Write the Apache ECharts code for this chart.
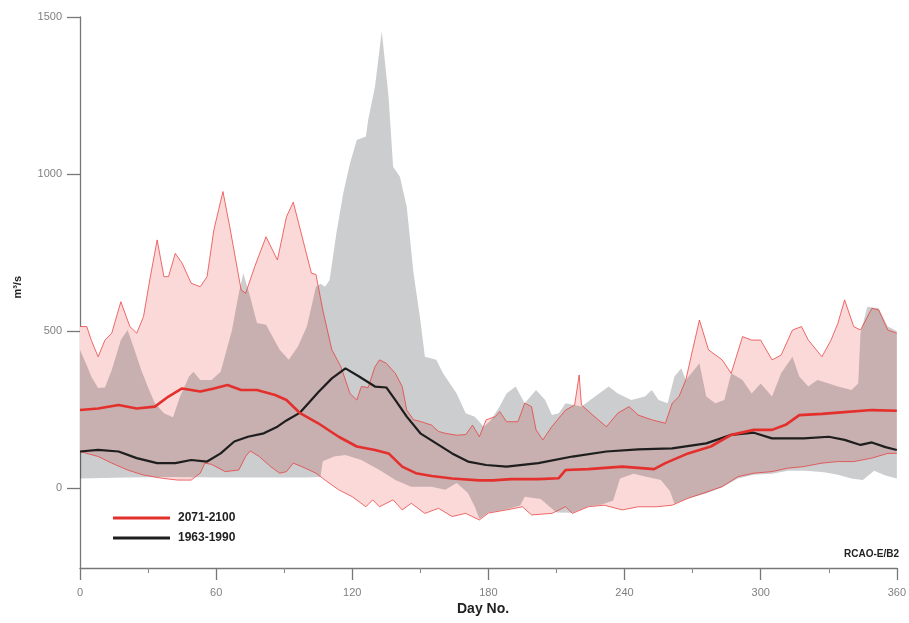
<!DOCTYPE html>
<html>
<head>
<meta charset="utf-8">
<title>RCAO-E/B2 daily discharge</title>
<script src="https://cdn.jsdelivr.net/npm/echarts@6/dist/echarts.min.js"></script>
<style>
  html, body { margin: 0; padding: 0; background: #fff; }
  #chart { width: 909px; height: 623px; }
</style>
</head>
<body>
<div id="chart"></div>
<script>
// Daily discharge (m3/s) by day of year, [day, value] pairs.
// 2071-2100: maximum, minimum and mean
const max2071 = [[0,514],[3,514],[5,470],[8,418],[11,471],[14,493],[18,593],[22,514],[25,493],[28,546],[31,673],[34,790],[37,673],[39,673],[42,747],[45,716],[49,652],[53,641],[56,673],[59,822],[63,944],[66,832],[71,631],[73,620],[77,705],[82,800],[87,726],[91,864],[94,910],[102,684],[104,680],[107,567],[111,440],[115,386],[119,301],[122,280],[124,323],[127,320],[130,386],[132,408],[135,397],[139,365],[142,323],[144,248],[147,217],[150,212],[155,200],[158,180],[161,174],[166,168],[170,170],[173,200],[176,163],[179,217],[183,227],[185,243],[188,211],[193,211],[196,270],[199,259],[201,185],[204,153],[208,196],[214,248],[218,264],[220,360],[221,264],[226,232],[232,195],[237,238],[242,259],[246,232],[252,217],[258,206],[261,270],[264,291],[267,344],[270,440],[273,535],[277,440],[283,408],[287,365],[292,482],[296,471],[300,471],[305,408],[309,423],[314,503],[318,514],[321,471],[327,418],[331,471],[334,524],[337,599],[341,514],[344,503],[349,572],[352,567],[356,503],[360,493]];
const min2071 = [[0,116],[4,108],[8,100],[14,79],[21,57],[28,41],[36,31],[43,25],[49,25],[53,47],[55,79],[58,75],[64,52],[70,57],[73,100],[75,118],[79,100],[84,68],[88,47],[91,52],[94,79],[98,67],[104,47],[108,25],[114,-6],[120,-28],[126,-60],[129,-38],[132,-60],[138,-38],[142,-70],[146,-49],[152,-81],[158,-65],[164,-91],[170,-81],[176,-102],[180,-80],[188,-70],[195,-60],[199,-86],[208,-81],[214,-60],[217,-81],[224,-60],[231,-55],[239,-70],[246,-60],[254,-60],[261,-55],[268,-33],[275,-16],[283,4],[290,36],[297,47],[305,52],[312,63],[319,68],[327,79],[334,84],[341,84],[349,95],[356,110],[360,110]];
const mean2071 = [[0,248],[8,253],[17,264],[25,253],[33,259],[39,291],[45,317],[53,307],[59,317],[65,328],[71,312],[78,312],[86,296],[91,280],[97,238],[105,206],[114,163],[122,132],[130,121],[136,110],[142,68],[148,47],[155,38],[164,30],[176,24],[182,24],[190,28],[202,28],[211,31],[214,57],[224,60],[239,68],[253,60],[258,79],[268,110],[278,132],[287,169],[297,185],[305,185],[311,201],[317,232],[327,236],[334,240],[349,248],[360,246]];

// 1963-1990: maximum, minimum and mean
const max1963 = [[0,440],[3,390],[5,354],[8,318],[11,320],[14,376],[18,471],[21,503],[24,440],[27,376],[30,320],[33,270],[37,238],[41,225],[44,290],[48,354],[50,370],[53,344],[58,344],[62,370],[67,503],[70,620],[72,684],[75,609],[78,525],[82,520],[88,440],[92,408],[96,450],[100,514],[104,641],[106,650],[108,641],[110,662],[113,811],[116,938],[119,1034],[122,1108],[126,1119],[127,1172],[130,1278],[133,1455],[136,1246],[138,1023],[141,991],[144,896],[147,684],[150,535],[152,418],[157,408],[160,365],[166,301],[170,238],[174,227],[178,195],[181,215],[185,260],[188,301],[192,323],[196,270],[201,312],[205,280],[208,232],[211,238],[214,270],[221,259],[227,291],[233,323],[237,301],[243,280],[249,291],[252,312],[255,280],[259,270],[262,355],[265,381],[267,344],[270,370],[273,397],[276,291],[280,270],[284,280],[287,365],[292,344],[296,301],[300,333],[305,291],[309,365],[314,418],[317,355],[321,323],[325,344],[330,333],[334,323],[340,312],[343,333],[344,493],[347,577],[352,572],[356,514],[360,500]];
const min1963 = [[0,30],[20,33],[40,35],[60,33],[80,33],[100,33],[106,35],[107,85],[112,100],[117,105],[124,89],[132,57],[139,25],[146,4],[155,4],[161,-6],[166,16],[171,-16],[174,-60],[176,-98],[180,-78],[188,-68],[194,-56],[196,-28],[203,-35],[207,-60],[210,-78],[217,-79],[224,-58],[230,-53],[235,-40],[238,30],[244,45],[250,35],[256,25],[260,-10],[262,-50],[268,-33],[276,-18],[283,2],[290,30],[297,42],[305,45],[312,55],[320,55],[328,50],[334,42],[340,30],[345,25],[350,55],[355,40],[360,30]];
const mean1963 = [[0,116],[8,121],[17,116],[25,95],[34,79],[42,79],[49,89],[56,84],[62,110],[68,148],[74,163],[81,174],[87,195],[91,215],[97,240],[105,305],[111,349],[117,381],[123,355],[130,323],[135,320],[139,280],[144,227],[150,174],[157,142],[164,110],[171,84],[179,73],[188,68],[202,79],[217,100],[232,116],[246,123],[261,126],[276,142],[287,169],[297,176],[305,158],[319,158],[330,163],[337,153],[344,137],[349,145],[355,130],[360,121]];

// Axis ticks
const dayTicks = [0, 60, 120, 180, 240, 300, 360];
const flowTicks = [0, 500, 1000, 1500];

const FONT = '"Liberation Sans", Arial, sans-serif';

// Filled envelope between an upper and a lower curve, placed through the axes.
function band(name, upper, lower, fill, z) {
  return {
    name: name,
    type: 'custom',
    coordinateSystem: 'cartesian2d',
    silent: true,
    z: z,
    data: [[0, 0]],
    encode: { x: 0, y: 1 },
    renderItem: function (params, api) {
      const pts = upper.map(p => api.coord(p))
        .concat(lower.slice().reverse().map(p => api.coord(p)));
      return { type: 'polygon', shape: { points: pts }, style: { fill: fill } };
    }
  };
}

function line(name, data, color, width, z) {
  return {
    name: name,
    type: 'line',
    data: data,
    showSymbol: false,
    silent: true,
    z: z,
    lineStyle: { color: color, width: width },
    itemStyle: { color: color }
  };
}

const chart = echarts.init(document.getElementById('chart'), null, { renderer: 'canvas' });

chart.setOption({
  animation: false,
  backgroundColor: '#ffffff',
  grid: { left: 80, right: 9, top: 17, bottom: 55, containLabel: false },
  xAxis: {
    type: 'value',
    min: 0,
    max: 360,
    interval: 60,
    axisLine: { onZero: false, lineStyle: { color: '#777', width: 1.3 } },
    axisTick: { show: true, inside: false, length: 12, lineStyle: { color: '#777', width: 1.3 } },
    minorTick: { show: true, splitNumber: 2, length: 5, lineStyle: { color: '#888' } },
    splitLine: { show: false },
    minorSplitLine: { show: false },
    axisLabel: {
      margin: 19,
      color: '#808080',
      fontSize: 11,
      fontFamily: FONT,
      customValues: dayTicks,
      formatter: v => String(v)
    }
  },
  yAxis: {
    type: 'value',
    min: -255,
    max: 1500,
    axisLine: { show: true, onZero: false, lineStyle: { color: '#777', width: 1.3 } },
    axisTick: { show: true, inside: false, length: 13, lineStyle: { color: '#777', width: 1.3 }, customValues: flowTicks },
    splitLine: { show: false },
    axisLabel: {
      margin: 18,
      color: '#808080',
      fontSize: 11,
      fontFamily: FONT,
      customValues: flowTicks,
      formatter: v => String(v)
    }
  },
  legend: {
    left: 108,
    top: 507,
    orient: 'vertical',
    icon: 'rect',
    itemWidth: 57,
    itemHeight: 3,
    itemGap: 8,
    selectedMode: false,
    data: ['2071-2100', '1963-1990'],
    textStyle: { fontFamily: FONT, fontSize: 12, fontWeight: 'bold', color: '#222', padding: [0, 0, 0, 3] }
  },
  graphic: [
    {
      type: 'text', left: 12, top: 276, rotation: Math.PI / 2,
      style: { text: 'm³/s', font: 'bold 11px ' + FONT, fill: '#222' }
    },
    {
      type: 'text', left: 457, top: 602,
      style: { text: 'Day No.', font: 'bold 14px ' + FONT, fill: '#222' }
    },
    {
      type: 'text', right: 10, top: 549,
      style: { text: 'RCAO-E/B2', font: 'bold 10px ' + FONT, fill: '#222' }
    }
  ],
  series: [
    band('range 2071-2100', max2071, min2071, '#fcd9d9', 1),
    band('range 1963-1990', max1963, min1963, 'rgba(15,22,28,0.215)', 2),
    line('max 2071-2100', max2071, 'rgba(232,60,60,0.75)', 1, 3),
    line('min 2071-2100', min2071, 'rgba(232,60,60,0.75)', 1, 3),
    line('2071-2100', mean2071, '#e4302c', 2.6, 5),
    line('1963-1990', mean1963, '#1e1e1e', 2.2, 4)
  ]
});
</script>
</body>
</html>
